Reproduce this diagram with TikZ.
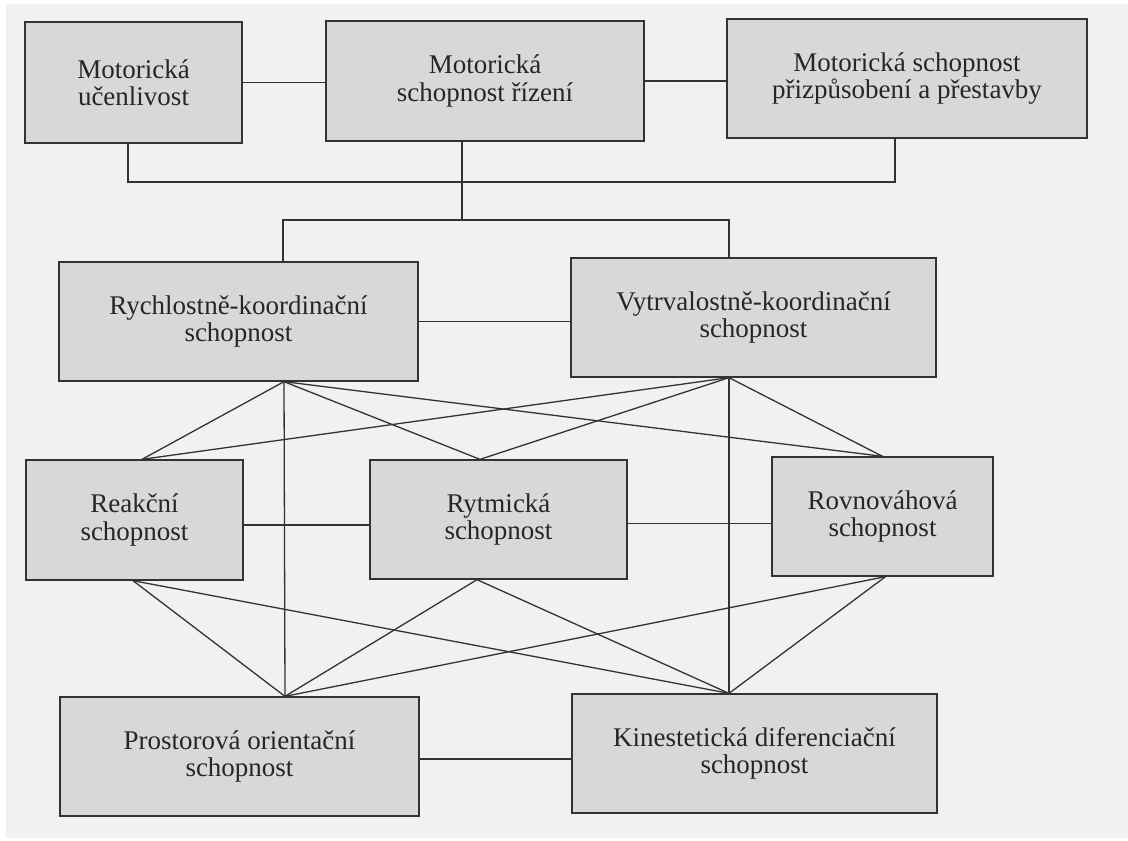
\documentclass[tikz,border=0pt]{standalone}
\usepackage{fontspec}
\setmainfont{Liberation Serif}
\usetikzlibrary{calc}
\definecolor{bgcol}{HTML}{EFF2EE}
\definecolor{boxfill}{HTML}{D8D9D6}
\definecolor{inkcol}{HTML}{333333}
\definecolor{txtcol}{HTML}{262626}
\begin{document}
\begin{tikzpicture}[x=1pt,y=-1pt,
  box/.style={draw=inkcol, line width=1.3pt, fill=boxfill, rectangle, inner sep=0pt, align=center,
    text=txtcol, font=\fontsize{27}{27.5}\selectfont},
  link/.style={draw=inkcol, line width=1.3pt}]
\fill[white] (0,0) rectangle (1128,841);
\fill[bgcol] (6,4) rectangle (1128,838);
\useasboundingbox (0,0) rectangle (1128,841);
% top row
\node[box, minimum width=217pt, minimum height=121pt] (A) at (133.5,82.5) {Motorická\\učenlivost};
\node[box, minimum width=318pt, minimum height=120pt] (B) at (485,81) {Motorická\\schopnost řízení};
\node[box, minimum width=360pt, minimum height=119pt] (C) at (907,78.5) {Motorická schopnost\\přizpůsobení a přestavby};
% second row
\node[box, minimum width=359pt, minimum height=119pt] (D) at (238.5,321.5) {Rychlostně-koordinační\\schopnost};
\node[box, minimum width=365pt, minimum height=119pt] (E) at (753.5,317.5) {Vytrvalostně-koordinační\\schopnost};
% third row
\node[box, minimum width=217pt, minimum height=120pt] (F) at (134.5,520) {Reakční\\schopnost};
\node[box, minimum width=257pt, minimum height=119pt] (G) at (498.5,519.5) {Rytmická\\schopnost};
\node[box, minimum width=221pt, minimum height=119pt] (H) at (882.5,516.5) {Rovnováhová\\schopnost};
% bottom row
\node[box, minimum width=359pt, minimum height=119pt] (I) at (239.5,756.5) {Prostorová orientační\\schopnost};
\node[box, minimum width=365pt, minimum height=119pt] (J) at (754.5,753.5) {Kinestetická diferenciační\\schopnost};

% connection points
\coordinate (Ab) at ([xshift=-5.5pt]A.south);
\coordinate (Bb) at ([xshift=-23pt]B.south);
\coordinate (Cb) at ([xshift=-12pt]C.south);
\coordinate (bus) at (Bb |- 0,182);
\coordinate (split) at (Bb |- 0,220);
\coordinate (Dt) at ([xshift=44.5pt]D.north);
\coordinate (Et) at ([xshift=-24.5pt]E.north);
\coordinate (Db) at ([xshift=45.5pt]D.south);
\coordinate (Eb) at ([xshift=-24.5pt]E.south);
\coordinate (Ft) at ([xshift=7.5pt]F.north);
\coordinate (Fb) at ([xshift=-1.5pt]F.south);
\coordinate (Gt) at ([xshift=-18.5pt]G.north);
\coordinate (Gb) at ([xshift=-21.5pt]G.south);
\coordinate (Ht) at (H.north);
\coordinate (Hb) at ([xshift=3pt]H.south);
\coordinate (It) at ([xshift=45.5pt]I.north);
\coordinate (Jt) at ([xshift=-25.5pt]J.north);

% top tree
\draw[link] (A.east) -- (A.east -| B.west);
\draw[link] (B.east) -- (B.east -| C.west);
\draw[link] (Ab) |- (bus) -| (Cb);
\draw[link] (Bb) -- (split);
\draw[link] (Dt) |- (split) -| (Et);
\draw[link] (D.east) -- (D.east -| E.west);

% from D and E
\draw[link] (Db) -- (Ft);
\draw[link] (Db) -- (Gt);
\draw[link] (Db) -- (Ht);
\draw[link] (Db) -- (It);
\draw[link] (Eb) -- (Ft);
\draw[link] (Eb) -- (Gt);
\draw[link] (Eb) -- (Ht);
\draw[link] (Eb) -- (Jt);

% third row horizontals
\draw[link] ([yshift=-5pt]F.east) -- ([yshift=-5pt]F.east -| G.west);
\draw[link] ([yshift=-4pt]G.east) -- ([yshift=-4pt]G.east -| H.west);

% to bottom row
\draw[link] (Fb) -- (It);
\draw[link] (Fb) -- (Jt);
\draw[link] (Gb) -- (It);
\draw[link] (Gb) -- (Jt);
\draw[link] (Hb) -- (It);
\draw[link] (Hb) -- (Jt);
\draw[link] ([yshift=-2.5pt]I.east) -- ([yshift=-2.5pt]I.east -| J.west);
\end{tikzpicture}
\end{document}
